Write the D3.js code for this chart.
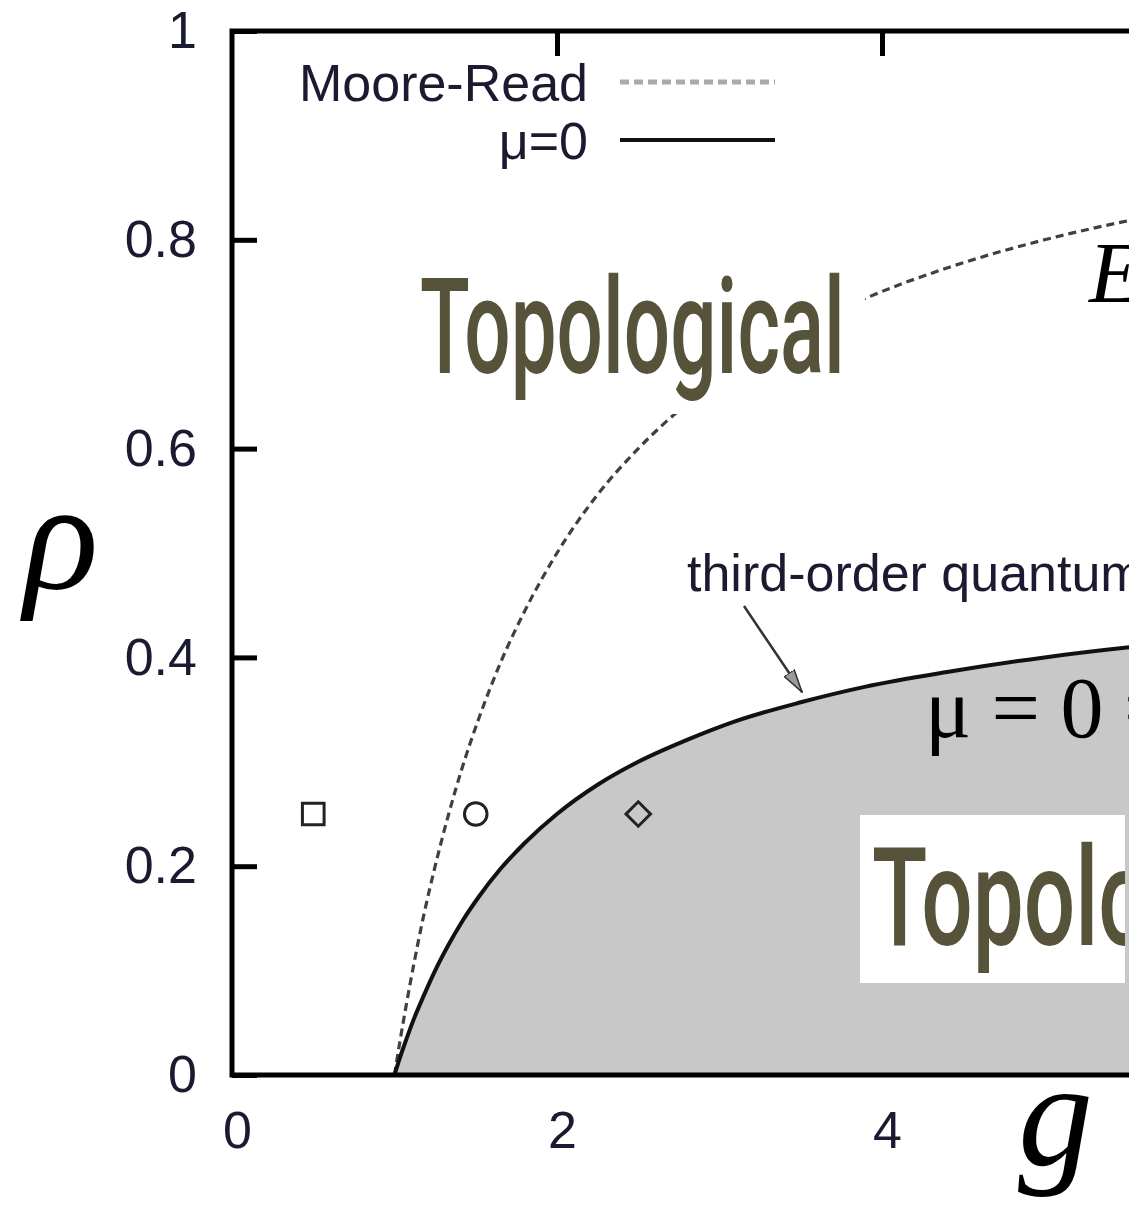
<!DOCTYPE html>
<html>
<head>
<meta charset="utf-8">
<script src="https://cdn.jsdelivr.net/npm/d3@7"></script>
<style>
  html, body { margin: 0; padding: 0; background: #fff; overflow: hidden; }
  svg { display: block; }
</style>
</head>
<body>
<div id="chart"></div>
<script>
// Phase diagram of the p+ip pairing model: density rho versus coupling g.
const gTicks = [0, 2, 4, 6];
const rhoTicks = [0, 0.2, 0.4, 0.6, 0.8, 1];

// Moore-Read line (dashed)
const mooreReadG   = [1.00, 1.03, 1.07, 1.12, 1.18, 1.25, 1.33, 1.42, 1.52, 1.65, 1.80, 2.00, 2.25, 2.50, 2.80, 3.10, 3.50, 3.90, 4.40, 5.00, 5.60, 6.00];
const mooreReadRho = [0.000, 0.029, 0.065, 0.107, 0.153, 0.200, 0.248, 0.296, 0.342, 0.394, 0.444, 0.500, 0.556, 0.600, 0.643, 0.677, 0.714, 0.744, 0.773, 0.800, 0.821, 0.833];

// mu = 0 line (solid), boundary of the shaded region
const muZeroG   = [1.00, 1.03, 1.07, 1.12, 1.18, 1.25, 1.33, 1.42, 1.52, 1.65, 1.80, 2.00, 2.25, 2.50, 2.80, 3.10, 3.50, 3.90, 4.40, 5.00, 5.60, 6.00];
const muZeroRho = [0.000, 0.015, 0.033, 0.054, 0.076, 0.100, 0.124, 0.148, 0.171, 0.197, 0.222, 0.250, 0.278, 0.300, 0.321, 0.339, 0.357, 0.372, 0.386, 0.400, 0.411, 0.417];

// Sample points marked in the diagram
const sampleG     = [0.5, 1.5, 2.5];
const sampleRho   = [0.25, 0.25, 0.25];
const sampleShape = ["square", "circle", "diamond"];

const legendLabels = ["Moore-Read", "\u03bc=0"];

const W = 1129, H = 1205;
const sansFont = "'Liberation Sans', Arial, Helvetica, sans-serif";
const serifFont = "'Liberation Serif', 'Times New Roman', serif";
const textColor = "#1a1a30";
const olive = "#56533a";

const svg = d3.select("#chart").append("svg")
  .attr("width", W).attr("height", H)
  .attr("viewBox", `0 0 ${W} ${H}`);

const defs = svg.append("defs");
// Everything is drawn inside the visible page area
defs.append("clipPath").attr("id", "page")
  .append("rect").attr("x", 0).attr("y", 0).attr("width", W).attr("height", H);
const root = svg.append("g").attr("clip-path", "url(#page)");

const x = d3.scaleLinear().domain([0, 8]).range([232, 1532]);
const y = d3.scaleLinear().domain([0, 1]).range([1075, 31]);

const mrPts = mooreReadG.map((g, i) => [g, mooreReadRho[i]]);
const muPts = muZeroG.map((g, i) => [g, muZeroRho[i]]);

// Shaded region below the mu = 0 line
const area = d3.area()
  .x(d => x(d[0])).y0(y(0)).y1(d => y(d[1]))
  .curve(d3.curveMonotoneX);
root.append("path").datum(muPts)
  .attr("d", area)
  .attr("fill", "#c8c8c8");

const line = d3.line()
  .x(d => x(d[0])).y(d => y(d[1]))
  .curve(d3.curveMonotoneX);

root.append("path").datum(mrPts)
  .attr("d", line)
  .attr("fill", "none")
  .attr("stroke", "#404040")
  .attr("stroke-width", 3.2)
  .attr("stroke-dasharray", "8,5");

root.append("path").datum(muPts)
  .attr("d", line)
  .attr("fill", "none")
  .attr("stroke", "#111")
  .attr("stroke-width", 4);

// Condensed region label: the word is squeezed horizontally to a given width
function condensedLabel(parent, x0, baseline, size, width) {
  const g = parent.append("g");
  const t = g.append("text")
    .attr("x", 0).attr("y", 0)
    .attr("font-family", "Roboto, 'Open Sans', sans-serif")
    .attr("font-weight", 500)
    .attr("font-size", size)
    .attr("fill", olive)
    .text("Topological");
  const natural = t.node().getComputedTextLength();
  t.attr("transform", `translate(${x0},${baseline}) scale(${width / natural},1)`);
  return g;
}

// Region label in the upper part, on a white box
root.append("rect")
  .attr("x", 405).attr("y", 255).attr("width", 460).attr("height", 159)
  .attr("fill", "#fff");
condensedLabel(root, 420, 373, 134, 425);

// Region label inside the shaded part, on a white box
defs.append("clipPath").attr("id", "lowerBox")
  .append("rect").attr("x", 860).attr("y", 815).attr("width", 265).attr("height", 168);
root.append("rect")
  .attr("x", 860).attr("y", 815).attr("width", 265).attr("height", 168)
  .attr("fill", "#fff");
const lower = root.append("g").attr("clip-path", "url(#lowerBox)");
condensedLabel(lower, 872, 945, 138, 472);

// Sample point markers
const symType = { square: d3.symbolSquare, circle: d3.symbolCircle, diamond: d3.symbolSquare };
const symSize = { square: 470, circle: 400, diamond: 300 };
const symRot  = { square: 0, circle: 0, diamond: 45 };
root.selectAll("path.sample")
  .data(sampleG.map((g, i) => ({ g, rho: sampleRho[i], shape: sampleShape[i] })))
  .join("path")
  .attr("class", "sample")
  .attr("d", d => d3.symbol().type(symType[d.shape]).size(symSize[d.shape])())
  .attr("transform", d => `translate(${x(d.g)},${y(d.rho)}) rotate(${symRot[d.shape]})`)
  .attr("fill", "none")
  .attr("stroke", "#222")
  .attr("stroke-width", 3);

// Axes: ticks point inward, frame drawn separately
const yAxis = d3.axisLeft(y).tickValues(rhoTicks).tickSizeInner(-25).tickSizeOuter(0)
  .tickPadding(35).tickFormat(d => String(d));
const gy = root.append("g").attr("transform", `translate(${x(0)},0)`).call(yAxis);
gy.select(".domain").remove();
gy.selectAll(".tick line").attr("stroke", "#000").attr("stroke-width", 5);
gy.selectAll(".tick text")
  .attr("font-family", sansFont).attr("font-size", 52).attr("fill", textColor);

const xAxisTop = d3.axisTop(x).tickValues(gTicks.filter(d => d > 0)).tickSizeInner(-25).tickSizeOuter(0).tickFormat("");
const gt = root.append("g").attr("transform", `translate(0,${y(1)})`).call(xAxisTop);
gt.select(".domain").remove();
gt.selectAll(".tick line").attr("stroke", "#000").attr("stroke-width", 5);

const xAxisBottom = d3.axisBottom(x).tickValues(gTicks).tickSize(0).tickPadding(36).tickFormat(d => String(d));
const gb = root.append("g").attr("transform", `translate(0,${y(0)})`).call(xAxisBottom);
gb.select(".domain").remove();
gb.selectAll(".tick text")
  .attr("dx", 5)
  .attr("font-family", sansFont).attr("font-size", 52).attr("fill", textColor);

// Plot frame (left, top, bottom)
root.append("path")
  .attr("d", `M${x(8)},${y(1)} H${x(0)} V${y(0)} H${x(8)}`)
  .attr("fill", "none")
  .attr("stroke", "#000")
  .attr("stroke-width", 5)
  .attr("stroke-linejoin", "miter");

// Legend
const legend = root.append("g").attr("font-family", sansFont).attr("font-size", 52).attr("fill", textColor);
const legendY = [82, 140];
const legendStyle = [
  { stroke: "#aaa", width: 5, dash: "9,5" },
  { stroke: "#111", width: 4, dash: null }
];
legendLabels.forEach((label, i) => {
  legend.append("text")
    .attr("x", 588).attr("y", legendY[i] + 19)
    .attr("text-anchor", "end")
    .text(label);
  legend.append("line")
    .attr("x1", 620).attr("x2", 775)
    .attr("y1", legendY[i]).attr("y2", legendY[i])
    .attr("stroke", legendStyle[i].stroke)
    .attr("stroke-width", legendStyle[i].width)
    .attr("stroke-dasharray", legendStyle[i].dash);
});

// Annotation of the transition line with an arrow
defs.append("marker").attr("id", "arrowHead")
  .attr("viewBox", "0 0 24 14").attr("refX", 23).attr("refY", 7)
  .attr("markerWidth", 24).attr("markerHeight", 14)
  .attr("markerUnits", "userSpaceOnUse")
  .attr("orient", "auto")
  .append("path")
  .attr("d", "M0,1 L23,7 L0,13 Z")
  .attr("fill", "#9a9a9a").attr("stroke", "#333").attr("stroke-width", 1.5);
root.append("line")
  .attr("x1", 744).attr("y1", 606).attr("x2", 802).attr("y2", 692)
  .attr("stroke", "#333").attr("stroke-width", 2.5)
  .attr("marker-end", "url(#arrowHead)");
root.append("text")
  .attr("x", 687).attr("y", 591)
  .attr("font-family", sansFont).attr("font-size", 52).attr("fill", textColor)
  .text("third-order quantum phase transition");

// Labels inside the diagram
root.append("text")
  .attr("x", 925).attr("y", 737)
  .attr("font-family", serifFont).attr("font-size", 86).attr("fill", "#000")
  .attr("word-spacing", -1)
  .text("\u03bc = 0 = E");
root.append("text")
  .attr("x", 1089).attr("y", 302)
  .attr("font-family", serifFont).attr("font-style", "italic").attr("font-size", 86).attr("fill", "#000")
  .text("E");

// Axis titles
root.append("text")
  .attr("x", 24).attr("y", 588)
  .attr("font-family", serifFont).attr("font-style", "italic").attr("font-size", 155).attr("fill", "#000")
  .text("\u03c1");
root.append("text")
  .attr("x", 1018).attr("y", 1165)
  .attr("font-family", serifFont).attr("font-style", "italic").attr("font-size", 150).attr("fill", "#000")
  .text("g");
</script>
</body>
</html>
